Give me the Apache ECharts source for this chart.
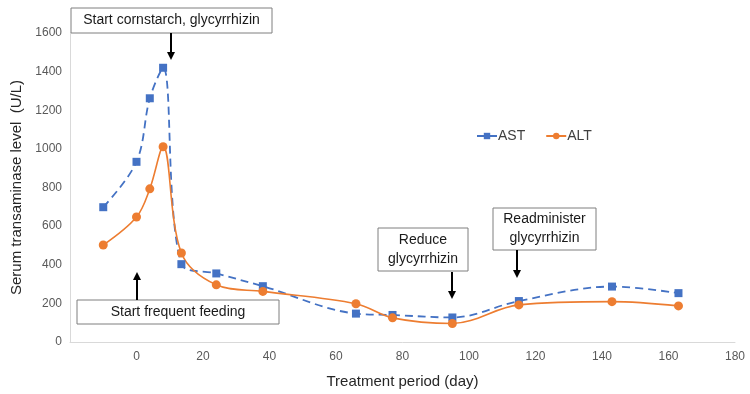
<!DOCTYPE html>
<html>
<head>
<meta charset="utf-8">
<script src="https://cdn.jsdelivr.net/npm/echarts@6/dist/echarts.min.js"></script>
<style>
  html, body { margin: 0; padding: 0; background: #fff; }
  #chart { width: 750px; height: 394px; }
</style>
</head>
<body>
<div id="chart"></div>
<script>
// days of treatment
var days = [-10, 0, 4, 8, 13.5, 24, 38, 66, 77, 95, 115, 143, 163]
// serum levels (U/L)
var astValues = [698, 933, 1262, 1420, 403, 355, 289, 147, 140, 127, 212, 287, 253]
var altValues = [502, 647, 793, 1011, 461, 296, 262, 198, 125, 96, 192, 209, 187]

var AST_COLOR = '#4472C4'
var ALT_COLOR = '#ED7D31'
var FONT = 'Liberation Sans, Arial, sans-serif'

function pairs(xs, ys) {
  return xs.map(function (x, i) { return [x, ys[i]] })
}

// text boxes with arrows (pixel layout)
function box(x, y, w, h, text) {
  return [{
    type: 'rect',
    shape: { x: x, y: y, width: w, height: h },
    style: { fill: '#fff', stroke: '#7f7f7f', lineWidth: 1 },
    z: 10
  }, {
    type: 'text',
    x: x + w / 2,
    y: y + h / 2,
    style: {
      text: text, fill: '#1a1a1a', font: '14px ' + FONT,
      align: 'center', verticalAlign: 'middle', lineHeight: 19
    },
    z: 11
  }]
}
function arrow(x, y1, y2) {
  var dir = y2 > y1 ? 1 : -1
  return [{
    type: 'line',
    shape: { x1: x, y1: y1, x2: x, y2: y2 - dir * 6 },
    style: { stroke: '#000', lineWidth: 2 },
    z: 10
  }, {
    type: 'polygon',
    shape: { points: [[x - 4, y2 - dir * 8], [x + 4, y2 - dir * 8], [x, y2]] },
    style: { fill: '#000' },
    z: 10
  }]
}

var graphics = [].concat(
  box(71, 8, 201, 25, 'Start cornstarch, glycyrrhizin'),
  arrow(171, 33, 60),
  box(77, 300, 202, 24, 'Start frequent feeding'),
  arrow(137, 300, 272),
  box(378, 228, 90, 43, 'Reduce\nglycyrrhizin'),
  arrow(452, 272, 299),
  box(493, 208, 103, 42, 'Readminister\nglycyrrhizin'),
  arrow(517, 250, 278)
)

var chart = echarts.init(document.getElementById('chart'))
chart.setOption({
  animation: false,
  textStyle: { fontFamily: FONT },
  grid: { left: 70, right: 15, top: 33, bottom: 48.5 },
  legend: {
    left: 471,
    top: 124,
    itemGap: 20,
    itemWidth: 20,
    itemHeight: 8,
    textStyle: { fontSize: 14, color: '#404040', padding: [0, 0, 0, -4] },
    data: [
      { name: 'AST', lineStyle: { type: 'solid' } },
      { name: 'ALT', lineStyle: { type: 'solid' } }
    ]
  },
  xAxis: {
    type: 'value',
    min: -20,
    max: 180,
    interval: 20,
    name: 'Treatment period (day)',
    nameLocation: 'middle',
    nameGap: 32,
    nameTextStyle: { fontSize: 15, color: '#262626' },
    axisLine: { show: true, onZero: false, lineStyle: { color: '#d9d9d9' } },
    axisTick: { show: false },
    splitLine: { show: false },
    axisLabel: {
      color: '#595959', fontSize: 12, margin: 9,
      formatter: function (v) { return v === -20 ? '' : String(v) }
    }
  },
  yAxis: {
    type: 'value',
    min: 0,
    max: 1600,
    interval: 200,
    name: 'Serum transaminase level  (U/L)',
    nameLocation: 'middle',
    nameGap: 43,
    nameTextStyle: { fontSize: 15, color: '#262626' },
    axisLine: { show: true, onZero: false, lineStyle: { color: '#d9d9d9' } },
    axisTick: { show: false },
    splitLine: { show: false },
    axisLabel: {
      color: '#595959', fontSize: 12, margin: 8,
      formatter: function (v) { return String(v) }
    }
  },
  series: [{
    name: 'AST',
    type: 'line',
    smooth: 0.35,
    symbol: 'rect',
    symbolSize: 8,
    itemStyle: { color: AST_COLOR },
    lineStyle: { color: AST_COLOR, width: 1.8, type: [8, 5] },
    data: pairs(days, astValues)
  }, {
    name: 'ALT',
    type: 'line',
    smooth: 0.35,
    symbol: 'circle',
    symbolSize: 9,
    itemStyle: { color: ALT_COLOR },
    lineStyle: { color: ALT_COLOR, width: 1.6 },
    data: pairs(days, altValues)
  }],
  graphic: graphics
})
</script>
</body>
</html>
